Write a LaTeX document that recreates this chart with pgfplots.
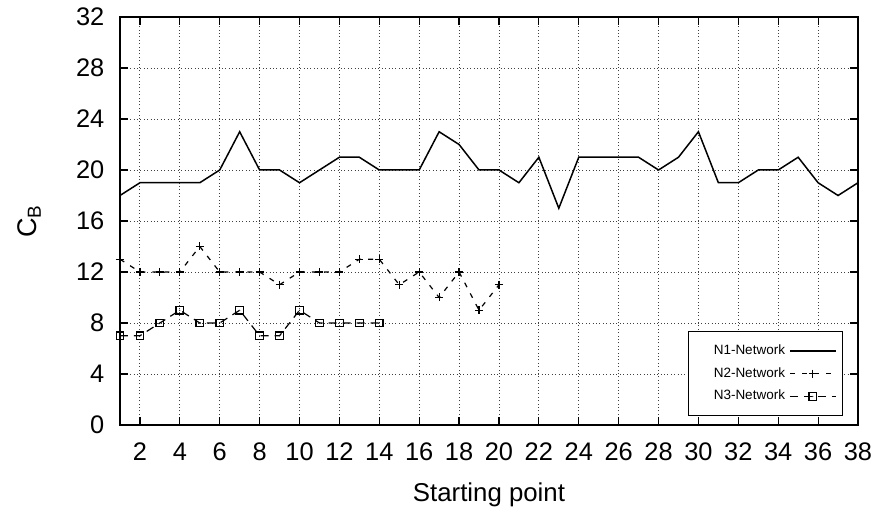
\documentclass[border=0pt]{standalone}
\usepackage{fontspec}
\setmainfont{Liberation Sans}
\usepackage{graphicx}
\usepackage{pgfplots}
\usepackage{pgfplotstable}
\pgfplotsset{compat=1.18}

\pgfdeclareplotmark{dotsquare}{%
  \pgfpathrectangle{\pgfpoint{-\pgfplotmarksize}{-\pgfplotmarksize}}{\pgfpoint{2\pgfplotmarksize}{2\pgfplotmarksize}}%
  \pgfusepathqstroke
  \pgfpathcircle{\pgfpointorigin}{0.3pt}%
  \pgfusepathqfill
}

\pgfplotstableread{
x y
1 18
2 19
3 19
4 19
5 19
6 20
7 23
8 20
9 20
10 19
11 20
12 21
13 21
14 20
15 20
16 20
17 23
18 22
19 20
20 20
21 19
22 21
23 17
24 21
25 21
26 21
27 21
28 20
29 21
30 23
31 19
32 19
33 20
34 20
35 21
36 19
37 18
38 19
}\netone

\pgfplotstableread{
x y
1 13
2 12
3 12
4 12
5 14
6 12
7 12
8 12
9 11
10 12
11 12
12 12
13 13
14 13
15 11
16 12
17 10
18 12
19 9
20 11
}\nettwo

\pgfplotstableread{
x y
1 7
2 7
3 8
4 9
5 8
6 8
7 9
8 7
9 7
10 9
11 8
12 8
13 8
14 8
}\netthree

\begin{document}
\begin{tikzpicture}
\begin{axis}[
  name=ax,
  scale only axis,
  width=369pt, height=204pt,
  xmin=1, xmax=38, ymin=0, ymax=32,
  xtick={2,4,...,38},
  ytick={0,4,...,32},
  grid=major,
  major grid style={black!75, line width=0.45pt, dash pattern=on 0.5pt off 1.2pt},
  axis line style={line width=0.9pt},
  major tick length=4pt,
  tick style={line width=0.6pt, black},
  tick label style={font=\fontsize{12.7}{15}\selectfont},
  /pgf/number format/assume math mode=true,
  xticklabel style={yshift=-5.5pt},
  yticklabel style={xshift=-4.3pt},
  xlabel={Starting point},
  ylabel={\rotatebox{90}{\fontsize{13.5}{16}\selectfont C\textsubscript{B}}},
  label style={font=\fontsize{12.9}{15}\selectfont},
  xlabel style={at={(axis description cs:0.5,-0.1887)}, anchor=base},
  every axis y label/.style={at={(axis description cs:-0.123,0.5)}, anchor=center, font=\fontsize{13.5}{16}\selectfont},
  legend plot pos=right,
  legend cell align=right,
  legend style={
    at={(axis description cs:0.9797,0.2304)}, anchor=north east,
    font=\fontsize{6.75}{8}\selectfont,
    draw=black, line width=0.5pt, fill=white,
    inner xsep=3pt, inner ysep=4.5pt,
    row sep=1pt,
    nodes={inner sep=2pt, text depth=0.15em, text width=43.5pt, align=right},
  },
  legend image code/.code={%
    \draw[mark repeat=2, mark phase=2, #1] plot coordinates {(0pt,0pt) (11.5pt,0pt) (23pt,0pt)};},
]
\addplot[black, line width=0.75pt, mark=none] table[x=x,y=y] {\netone};
\addlegendentry{N1-Network}
\addplot[black, line width=0.6pt, dash pattern=on 2.5pt off 3.5pt, mark=+, mark size=2pt, mark options={solid, line width=0.6pt}] table[x=x,y=y] {\nettwo};
\addlegendentry{N2-Network}
\addplot[black, line width=0.6pt, dash pattern=on 4pt off 3pt, mark=dotsquare, mark size=1.9pt, mark options={solid, line width=0.6pt}] table[x=x,y=y] {\netthree};
\addlegendentry{N3-Network}
\end{axis}
\pgfresetboundingbox
\path ([xshift=-60pt,yshift=-43.5pt]ax.south west) rectangle ([xshift=12.5pt,yshift=8.5pt]ax.north east);
\end{tikzpicture}
\end{document}
